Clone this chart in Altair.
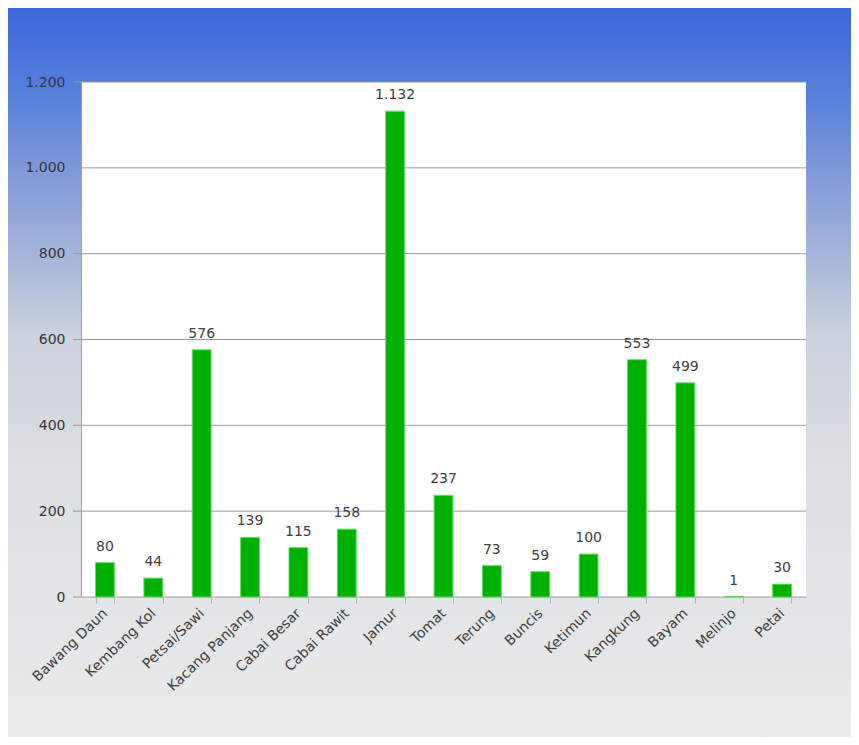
import altair as alt
import pandas as pd

categories = ["Bawang Daun", "Kembang Kol", "Petsai/Sawi", "Kacang Panjang", "Cabai Besar",
              "Cabai Rawit", "Jamur", "Tomat", "Terung", "Buncis", "Ketimun", "Kangkung",
              "Bayam", "Melinjo", "Petai"]
values = [80, 44, 576, 139, 115, 158, 1132, 237, 73, 59, 100, 553, 499, 1, 30]
y_ticks = [0, 200, 400, 600, 800, 1000, 1200]

W, H = 725, 515
LEFT, TOP = 73, 74
TOTAL_W, TOTAL_H = 843, 729

df = pd.DataFrame({"kategori": categories, "nilai": values})
grid_df = pd.DataFrame({"v": y_ticks})

FONT = "DejaVu Sans"
TXT = "#404040"

yscale = alt.Scale(domain=[0, 1200], nice=False)
yaxis = alt.Axis(title=None, values=y_ticks, format=",d", grid=False, ticks=False,
                 labelFont=FONT, labelFontSize=14, labelColor="#353535", labelPadding=16,
                 domain=True, domainColor="#a0a0a0", zindex=1)

xs = alt.X("kategori:N", sort=categories,
           scale=alt.Scale(paddingInner=0.61, paddingOuter=0.3),
           axis=alt.Axis(title=None, labelAngle=-44, labelAlign="right", labelBaseline="middle",
                         labelFont=FONT, labelFontSize=14, labelColor=TXT, labelPadding=8,
                         domain=False, ticks=True, tickBand="extent", tickSize=6,
                         tickColor="#b0b0b0", zindex=1))
ys = alt.Y("nilai:Q", scale=yscale, axis=yaxis)

one = alt.Data(values=[{"a": 1}])

gradient = alt.LinearGradient(
    gradient="linear", x1=0, y1=0, x2=0, y2=1,
    stops=[alt.GradientStop(color="#3b67d9", offset=0),
           alt.GradientStop(color="#5880dc", offset=0.12),
           alt.GradientStop(color="#7893d8", offset=0.2),
           alt.GradientStop(color="#a6b6d8", offset=0.34),
           alt.GradientStop(color="#ccd2de", offset=0.45),
           alt.GradientStop(color="#dcdee2", offset=0.62),
           alt.GradientStop(color="#ebebeb", offset=1)])

bg = alt.Chart(one).mark_rect(fill=gradient).encode(
    x=alt.value(-LEFT), x2=alt.value(TOTAL_W - LEFT),
    y=alt.value(-TOP), y2=alt.value(TOTAL_H - TOP))

plot_bg = alt.Chart(one).mark_rect(fill="white").encode(
    x=alt.value(0), x2=alt.value(W), y=alt.value(0), y2=alt.value(H))

grid = alt.Chart(grid_df).mark_rule(color="#9a9a9a", strokeWidth=1).encode(
    y=alt.Y("v:Q", scale=yscale, axis=yaxis),
    x=alt.value(-8), x2=alt.value(W))

bars = alt.Chart(df).mark_bar(color="#00b000", stroke="#5fe05f", strokeWidth=1).encode(
    x=xs, y=ys)

labels = alt.Chart(df).mark_text(baseline="bottom", dy=-9, font=FONT, fontSize=14,
                                 color=TXT).encode(
    x=alt.X("kategori:N", sort=categories),
    y=alt.Y("nilai:Q"),
    text=alt.Text("nilai:Q", format=",d"))

chart = alt.layer(bg, plot_bg, grid, bars, labels).properties(
    width=W, height=H, padding=0
).configure_view(stroke=None).configure(
    locale={"number": {"decimal": ",", "thousands": ".", "grouping": [3], "currency": ["", ""]}}
)

chart.save("out.html", embed_options={"renderer": "svg", "actions": False})
